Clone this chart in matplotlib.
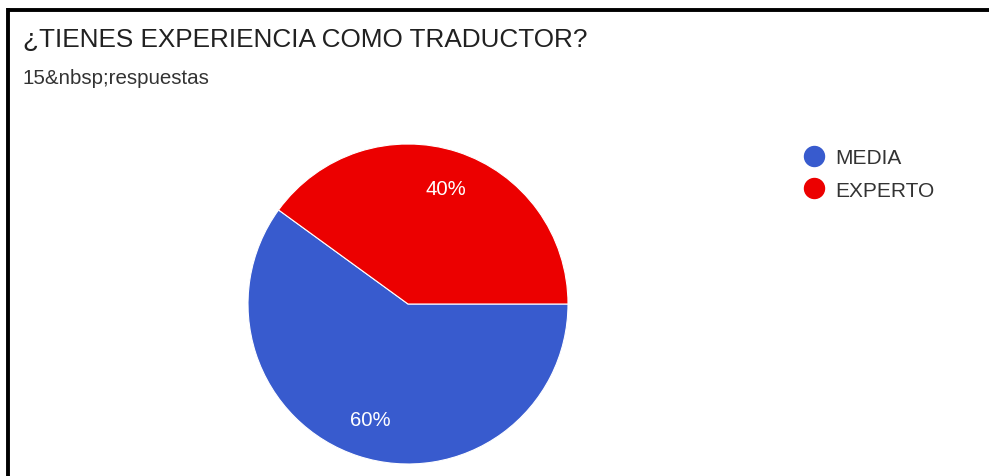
import matplotlib.pyplot as plt
from matplotlib.lines import Line2D

plt.rcParams['font.family'] = ['Liberation Sans', 'DejaVu Sans']

# datos de la encuesta
categorias = ['MEDIA', 'EXPERTO']
porcentajes = [60, 40]
colores = ['#385bce', '#ec0000']
titulo = '¿TIENES EXPERIENCIA COMO TRADUCTOR?'
subtitulo = '15&nbsp;respuestas'

W, H = 989, 477
fig = plt.figure(figsize=(W / 100, H / 100), dpi=100)
fig.patch.set_facecolor('white')

# marco negro (arriba e izquierda)
fig.add_artist(Line2D([8 / W, 1], [1 - 10.5 / H, 1 - 10.5 / H], color='black', lw=2.8,
                      transform=fig.transFigure, solid_capstyle='butt'))
fig.add_artist(Line2D([8 / W, 8 / W], [0, 1 - 9 / H], color='black', lw=2.8,
                      transform=fig.transFigure, solid_capstyle='butt'))

fig.text(23 / W, 1 - 47 / H, titulo, fontsize=18.8, color='#212121', va='baseline')
fig.text(23 / W, 1 - 84 / H, subtitulo, fontsize=14.8, color='#333333', va='baseline')

# pastel
ax = fig.add_axes([248 / W, (H - 465) / H, 320 / W, 320 / H])
wedges, textos, autotextos = ax.pie(
    porcentajes, colors=colores, startangle=144, counterclock=True,
    autopct='%d%%', pctdistance=0.76,
    wedgeprops=dict(edgecolor='white', linewidth=0.8),
    textprops=dict(color='white', fontsize=14.7))
ax.set_xlim(-1, 1)
ax.set_ylim(-1, 1)

# leyenda con círculos
handles = [Line2D([], [], marker='o', linestyle='none', markersize=14.4,
                  markerfacecolor=c, markeredgecolor=c) for c in colores]
fig.legend(handles, categorias, loc='upper left', bbox_to_anchor=(804 / W, 1 - 149 / H),
           frameon=False, fontsize=15, handlelength=1.0, handletextpad=0.5,
           labelspacing=0.65, labelcolor='#333333', borderpad=0, borderaxespad=0)

fig.savefig('out.png', dpi=100)
